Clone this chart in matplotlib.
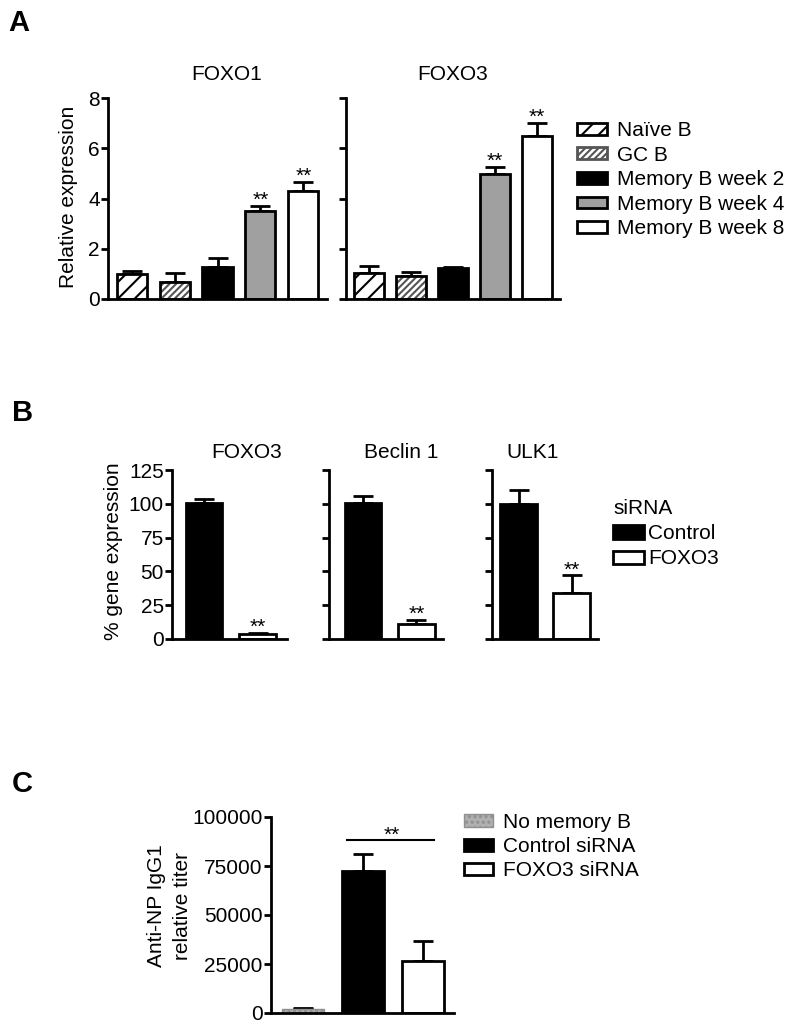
import numpy as np
import matplotlib
matplotlib.use("Agg")
import matplotlib.pyplot as plt
from matplotlib.patches import Patch

plt.rcParams['font.family'] = ['Liberation Sans', 'DejaVu Sans']
plt.rcParams['font.size'] = 15
plt.rcParams['hatch.linewidth'] = 1.5

# Panel A: relative expression by B cell subset
subsets_a = ['Naïve B', 'GC B', 'Memory B week 2', 'Memory B week 4', 'Memory B week 8']
foxo1_mean = [1.01, 0.69, 1.29, 3.52, 4.28]
foxo1_err = [0.11, 0.35, 0.36, 0.20, 0.37]
foxo1_sig = ['', '', '', '**', '**']
foxo3_mean = [1.04, 0.91, 1.22, 4.98, 6.50]
foxo3_err = [0.28, 0.15, 0.06, 0.26, 0.52]
foxo3_sig = ['', '', '', '**', '**']
yticks_a = [0, 2, 4, 6, 8]

# Panel B: % gene expression after siRNA
genes_b = ['FOXO3', 'Beclin 1', 'ULK1']
siRNA_groups = ['Control', 'FOXO3']
control_mean = [100.4, 100.8, 99.5]
control_err = [2.9, 5.2, 10.6]
knock_mean = [3.5, 11.1, 33.9]
knock_err = [0.7, 2.9, 13.1]
yticks_b = [0, 25, 50, 75, 100, 125]

# Panel C: anti-NP IgG1 titer
groups_c = ['No memory B', 'Control siRNA', 'FOXO3 siRNA']
titer_mean = [1800, 72300, 26700]
titer_err = [600, 8700, 9900]
yticks_c = [0, 25000, 50000, 75000, 100000]

W, H = 800, 1030
fig = plt.figure(figsize=(W / 100, H / 100), dpi=100)


def add_ax(x0, x1, ytop, ybot):
    return fig.add_axes([x0 / W, 1 - ybot / H, (x1 - x0) / W, (ybot - ytop) / H])


def style(ax, yticks, labels=True):
    for s in ['top', 'right']:
        ax.spines[s].set_visible(False)
    for s in ['left', 'bottom']:
        ax.spines[s].set_linewidth(2)
    ax.set_xticks([])
    ax.set_yticks(yticks)
    ax.set_ylim(yticks[0], yticks[-1])
    ax.tick_params(axis='y', direction='out', length=5, width=2, pad=1, labelsize=15)
    if not labels:
        ax.set_yticklabels([])


def figtext(x, y, s, **kw):
    fig.text(x / W, 1 - y / H, s, **kw)


def up_err(ax, x, mean, err):
    ax.errorbar(x, mean, yerr=[np.zeros(len(mean)), err], fmt='none', ecolor='black',
                elinewidth=2, capsize=7, capthick=2, zorder=1)


def stars(ax, x, mean, err, sig):
    for xi, m, e, s in zip(x, mean, err, sig):
        if s:
            ax.annotate(s, (xi, m + e), xytext=(0, 4), textcoords='offset points',
                        ha='center', va='center', fontsize=15)


# ---------- Panel A ----------
styles_a = [dict(facecolor='white', edgecolor='black', hatch='//'),
            dict(facecolor='white', edgecolor='#555555', hatch='/////'),
            dict(facecolor='black', edgecolor='black'),
            dict(facecolor='#a0a0a0', edgecolor='black'),
            dict(facecolor='white', edgecolor='black')]

xa = np.arange(len(subsets_a))
axA1 = add_ax(108, 327, 98, 299)
axA2 = add_ax(346, 560, 98, 299)
for ax, mean, err, sig in [(axA1, foxo1_mean, foxo1_err, foxo1_sig),
                           (axA2, foxo3_mean, foxo3_err, foxo3_sig)]:
    up_err(ax, xa, mean, err)
    for i in range(len(xa)):
        st = styles_a[i]
        ax.bar(xa[i], mean[i], width=0.7, facecolor=st['facecolor'], edgecolor=st['edgecolor'],
               hatch=st.get('hatch'), linewidth=0, zorder=2)
        ax.bar(xa[i], mean[i], width=0.7, fill=False, edgecolor='black', linewidth=2, zorder=3)
    stars(ax, xa, mean, err, sig)
    ax.set_xlim(-0.55, 4.55)
style(axA1, yticks_a)
style(axA2, yticks_a, labels=False)
axA1.set_ylabel('Relative expression', fontsize=15)
axA1.yaxis.set_label_coords(78 / W, 1 - 197 / H, transform=fig.transFigure)

handles_a = [Patch(facecolor=st['facecolor'], edgecolor=st['edgecolor'], hatch=st.get('hatch'),
                   linewidth=2, label=lab) for st, lab in zip(styles_a, subsets_a)]
fig.legend(handles=handles_a, loc='upper left', bbox_to_anchor=(577 / W, 1 - 121 / H),
           frameon=False, borderpad=0, borderaxespad=0, handlelength=1.45, handleheight=0.5,
           handletextpad=0.45, labelspacing=0.27, fontsize=15)

figtext(227, 75, 'FOXO1', ha='center', va='center', fontsize=15)
figtext(453, 75, 'FOXO3', ha='center', va='center', fontsize=15)

# ---------- Panel B ----------
xb = np.arange(len(siRNA_groups))
b_axes = [add_ax(172, 287, 470, 639), add_ax(329, 443, 470, 639), add_ax(492, 598, 470, 639)]
b_xlim = [(-0.6, 1.55), (-0.65, 1.5), (-0.5, 1.5)]
b_title_x = [247, 401, 533]
for k, ax in enumerate(b_axes):
    mean = [control_mean[k], knock_mean[k]]
    err = [control_err[k], knock_err[k]]
    up_err(ax, xb, mean, err)
    ax.bar(xb, mean, width=0.68, color=['black', 'white'], edgecolor='black', linewidth=2, zorder=2)
    stars(ax, xb, mean, err, ['', '**'])
    ax.set_xlim(*b_xlim[k])
    style(ax, yticks_b, labels=(k == 0))
    figtext(b_title_x[k], 452, genes_b[k], ha='center', va='center', fontsize=15)
b_axes[0].set_ylabel('% gene expression', fontsize=15)
b_axes[0].yaxis.set_label_coords(123 / W, 1 - 551 / H, transform=fig.transFigure)

handles_b = [Patch(facecolor='black', edgecolor='black', linewidth=2, label=siRNA_groups[0]),
             Patch(facecolor='white', edgecolor='black', linewidth=2, label=siRNA_groups[1])]
fig.legend(handles=handles_b, title='siRNA', loc='upper left', alignment='left',
           bbox_to_anchor=(613 / W, 1 - 499 / H), frameon=False, borderpad=0,
           borderaxespad=0, handlelength=1.5, handleheight=0.6, handletextpad=0.2,
           labelspacing=0.3, fontsize=15, title_fontsize=15)

# ---------- Panel C ----------
xc = np.arange(len(groups_c))
styles_c = [dict(facecolor='#b0b0b0', edgecolor='#909090', hatch='...', linewidth=1),
            dict(facecolor='black', edgecolor='black', linewidth=2),
            dict(facecolor='white', edgecolor='black', linewidth=2)]
axC = add_ax(271, 454, 817, 1013)
up_err(axC, xc, titer_mean, titer_err)
for i in range(len(xc)):
    axC.bar(xc[i], titer_mean[i], width=0.7, zorder=2, **styles_c[i])
axC.set_xlim(-0.54, 2.52)
style(axC, yticks_c)
sig_y = 88500
axC.plot([xc[1] - 0.27, xc[2] + 0.18], [sig_y, sig_y], color='black', linewidth=1.5)
axC.annotate('**', ((xc[1] + xc[2]) / 2 - 0.02, sig_y), xytext=(0, 3), textcoords='offset points',
             ha='center', va='center', fontsize=15)
axC.set_ylabel('Anti-NP IgG1\nrelative titer', fontsize=15, linespacing=1.45)
axC.yaxis.set_label_coords(192 / W, 1 - 906 / H, transform=fig.transFigure)

handles_c = [Patch(label=lab, **st) for st, lab in zip(styles_c, groups_c)]
fig.legend(handles=handles_c, loc='upper left', bbox_to_anchor=(464 / W, 1 - 813 / H),
           frameon=False, borderpad=0, borderaxespad=0, handlelength=1.4, handleheight=0.55,
           handletextpad=0.45, labelspacing=0.25, fontsize=15)

# panel letters
figtext(8, 23, 'A', fontsize=21, fontweight='bold', va='center', ha='left')
figtext(12, 413, 'B', fontsize=21, fontweight='bold', va='center', ha='left')
figtext(12, 784, 'C', fontsize=21, fontweight='bold', va='center', ha='left')

fig.savefig('out.png', dpi=100)
